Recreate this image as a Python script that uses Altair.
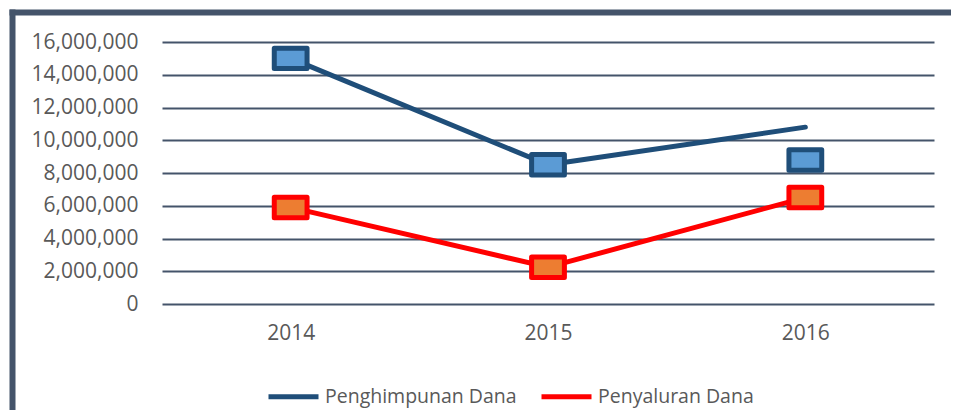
import altair as alt
import pandas as pd

years = ["2014", "2015", "2016"]
series = ["Penghimpunan Dana", "Penyaluran Dana"]
penghimpunan_line = [15000000, 8500000, 10800000]
penyaluran_line = [5900000, 2250000, 6500000]
penghimpunan_marker = [15000000, 8500000, 8800000]
penyaluran_marker = [5900000, 2250000, 6500000]
y_ticks = [0, 2000000, 4000000, 6000000, 8000000, 10000000, 12000000, 14000000, 16000000]

BLUE = "#1F4E79"
BLUE_FILL = "#5B9BD5"
RED = "#FF0000"
RED_FILL = "#ED7D31"
FRAME = "#44546A"
TEXT = "#595959"
FONT = "Open Sans"
FS = 21

line_df = pd.DataFrame(
    [{"year": y, "series": series[0], "value": v} for y, v in zip(years, penghimpunan_line)]
    + [{"year": y, "series": series[1], "value": v} for y, v in zip(years, penyaluran_line)]
)
blue_marker_df = pd.DataFrame({"year": years, "value": penghimpunan_marker})
red_marker_df = pd.DataFrame({"year": years, "value": penyaluran_marker})

x_enc = alt.X("year:O", title=None,
              scale=alt.Scale(type="point", padding=0.5),
              axis=alt.Axis(labelAngle=0, ticks=False, domain=False, grid=False,
                            labelPadding=18, labelFontSize=FS, labelColor=TEXT, labelFont=FONT))
y_enc = alt.Y("value:Q", title=None,
              scale=alt.Scale(domain=[0, 16000000], nice=False),
              axis=alt.Axis(values=y_ticks, format=",d", ticks=False, domain=False,
                            grid=True, gridColor=FRAME, gridWidth=2, gridOpacity=1,
                            labelOverlap=False,
                            labelPadding=24, labelFontSize=FS, labelColor=TEXT, labelFont=FONT))

lines = alt.Chart(line_df).mark_line(strokeWidth=5, strokeCap="round", strokeJoin="round").encode(
    x=x_enc, y=y_enc,
    color=alt.Color("series:N", scale=alt.Scale(domain=series, range=[BLUE, RED]),
                    legend=alt.Legend(title=None, orient="none", legendX=104, legendY=327,
                                      direction="horizontal", symbolType="stroke",
                                      symbolSize=2500, symbolStrokeWidth=5,
                                      labelFontSize=19.5, labelColor=TEXT, labelFont=FONT,
                                      labelLimit=400, labelOffset=4, columnPadding=14)),
)

RECT = "M-1.6,-1L1.6,-1L1.6,1L-1.6,1Z"
blue_markers = alt.Chart(blue_marker_df).mark_point(
    shape=RECT, size=420, filled=True, opacity=1, fill=BLUE_FILL, stroke=BLUE,
    strokeWidth=5, strokeJoin="round", strokeOpacity=1, fillOpacity=1
).encode(x=x_enc, y=y_enc)
red_markers = alt.Chart(red_marker_df).mark_point(
    shape=RECT, size=420, filled=True, opacity=1, fill=RED_FILL, stroke=RED,
    strokeWidth=5, strokeJoin="round", strokeOpacity=1, fillOpacity=1
).encode(x=x_enc, y=y_enc)

frame_df = pd.DataFrame({"k": [0]})
frame_left = alt.Chart(frame_df).mark_rule(color=FRAME, strokeWidth=6).encode(
    x=alt.value(-149.5), y=alt.value(-32.5), y2=alt.value(400))
frame_top = alt.Chart(frame_df).mark_rule(color=FRAME, strokeWidth=6).encode(
    x=alt.value(-152.5), x2=alt.value(820), y=alt.value(-29.5))

chart = alt.layer(lines, blue_markers, red_markers, frame_left, frame_top).properties(
    width=772, height=262,
    autosize=alt.AutoSizeParams(type="none"),
    padding={"left": 154, "top": 34, "right": 17, "bottom": 106},
).configure_view(stroke=None)

chart.save("out.html", embed_options={"renderer": "svg", "actions": False})
